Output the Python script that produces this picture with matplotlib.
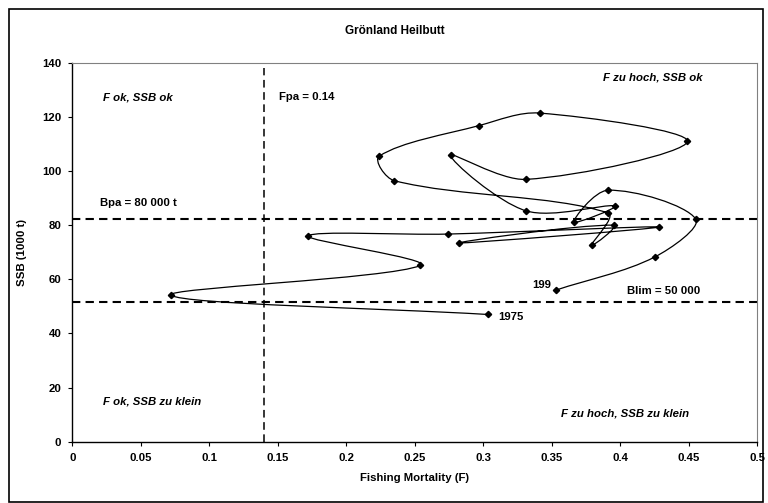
import numpy as np
import matplotlib
matplotlib.use("Agg")
import matplotlib.pyplot as plt
from matplotlib.path import Path
from matplotlib.patches import PathPatch, Rectangle

plt.rcParams['font.family'] = ['Liberation Sans', 'DejaVu Sans']

# Fishing mortality (F) and SSB (1000 t), in time order starting 1975
fishing_mortality = [0.303, 0.072, 0.254, 0.172, 0.274, 0.428, 0.282, 0.395,
                     0.379, 0.391, 0.235, 0.224, 0.297, 0.341, 0.449, 0.331,
                     0.276, 0.331, 0.396, 0.366, 0.391, 0.455, 0.425, 0.353]
ssb = [47.0, 54.1, 65.1, 76.0, 76.7, 79.3, 73.4, 80.0,
       72.6, 84.5, 96.4, 105.5, 116.8, 121.4, 110.9, 96.9,
       105.8, 85.3, 87.1, 81.1, 92.9, 82.3, 68.2, 56.0]

fpa = 0.14
bpa_line = 82.3
blim_line = 51.7

x_ticks = [0, 0.05, 0.1, 0.15, 0.2, 0.25, 0.3, 0.35, 0.4, 0.45, 0.5]
x_tick_labels = ['0', '0.05', '0.1', '0.15', '0.2', '0.25', '0.3', '0.35', '0.4', '0.45', '0.5']
y_ticks = [0, 20, 40, 60, 80, 100, 120, 140]

FS = 8.2


# smoothed line like Excel: cubic Bezier, handle length proportional to
# the neighbouring segment lengths (measured in screen pixels)
def smooth_path(xs, ys, sx, sy):
    pts = np.column_stack([xs, ys])
    scr = pts * np.array([sx, sy])
    n = len(pts)
    verts = [pts[0]]
    codes = [Path.MOVETO]

    def handle(i, seg):
        # tangent at point i scaled for the segment of length seg
        a = scr[max(i - 1, 0)]
        b = scr[min(i + 1, n - 1)]
        d1 = np.hypot(*(scr[i] - a))
        d2 = np.hypot(*(b - scr[i]))
        if d1 + d2 == 0:
            return np.zeros(2)
        return (b - a) * seg / (d1 + d2) / 3.0

    for i in range(n - 1):
        seg = np.hypot(*(scr[i + 1] - scr[i]))
        c1 = scr[i] + handle(i, seg)
        c2 = scr[i + 1] - handle(i + 1, seg)
        verts += [c1 / [sx, sy], c2 / [sx, sy], pts[i + 1]]
        codes += [Path.CURVE4] * 3
    return Path(verts, codes)


fig = plt.figure(figsize=(7.68, 5.03), dpi=100)
ax = fig.add_axes([0.0944, 0.1219, 0.8917, 0.7534])
ax.set_xlim(0, 0.5)
ax.set_ylim(0, 140)

px_x = 0.8917 * 768 / 0.5
px_y = 0.7534 * 503 / 140
ax.add_patch(PathPatch(smooth_path(fishing_mortality, ssb, px_x, px_y),
                       facecolor='none', edgecolor='black', lw=0.9))
ax.plot(fishing_mortality, ssb, linestyle='none', marker='D', markersize=3.2,
        color='black')

# reference lines
ax.plot([0, 0.5], [bpa_line, bpa_line], color='black', lw=1.5, dashes=(4, 2.5))
ax.plot([0, 0.5], [blim_line, blim_line], color='black', lw=1.5, dashes=(4, 2.5))
ax.plot([fpa, fpa], [0, 138], color='black', lw=1.1, dashes=(5, 3))

bold = dict(fontsize=FS, fontweight='bold')
ax.text(0.022, 127.3, 'F ok, SSB ok', style='italic', va='center', **bold)
ax.text(0.151, 127.3, 'Fpa = 0.14', va='center', **bold)
ax.text(0.387, 134.6, 'F zu hoch, SSB ok', style='italic', va='center', **bold)
ax.text(0.02, 88.0, 'Bpa = 80 000 t', va='center', **bold)
ax.text(0.336, 57.8, '199', va='center', **bold)
ax.text(0.405, 55.8, 'Blim = 50 000', va='center', **bold)
ax.text(0.311, 46.2, '1975', va='center', **bold)
ax.text(0.022, 14.8, 'F ok, SSB zu klein', style='italic', va='center', **bold)
ax.text(0.357, 10.5, 'F zu hoch, SSB zu klein', style='italic', va='center', **bold)

ax.set_xticks(x_ticks)
ax.set_xticklabels(x_tick_labels)
ax.set_yticks(y_ticks)
ax.tick_params(direction='out', length=3, width=0.8, labelsize=FS, pad=5)
for lab in ax.get_xticklabels() + ax.get_yticklabels():
    lab.set_fontweight('bold')

for side in ['top', 'right']:
    ax.spines[side].set_color('#808080')
    ax.spines[side].set_linewidth(0.8)
for side in ['left', 'bottom']:
    ax.spines[side].set_linewidth(1.0)

ax.set_xlabel('Fishing Mortality (F)', fontsize=FS, fontweight='bold', labelpad=7)
ax.set_ylabel('SSB (1000 t)', fontsize=FS, fontweight='bold', labelpad=11)
fig.text(0.514, 0.938, 'Grönland Heilbutt', ha='center', va='center',
         fontsize=8.5, fontweight='bold')

# outer chart border
fig.patches.append(Rectangle((9 / 768, 1 / 503), 754 / 768, 493 / 503,
                             transform=fig.transFigure, fill=False,
                             edgecolor='black', lw=1.2))

fig.savefig('out.png', dpi=100)
